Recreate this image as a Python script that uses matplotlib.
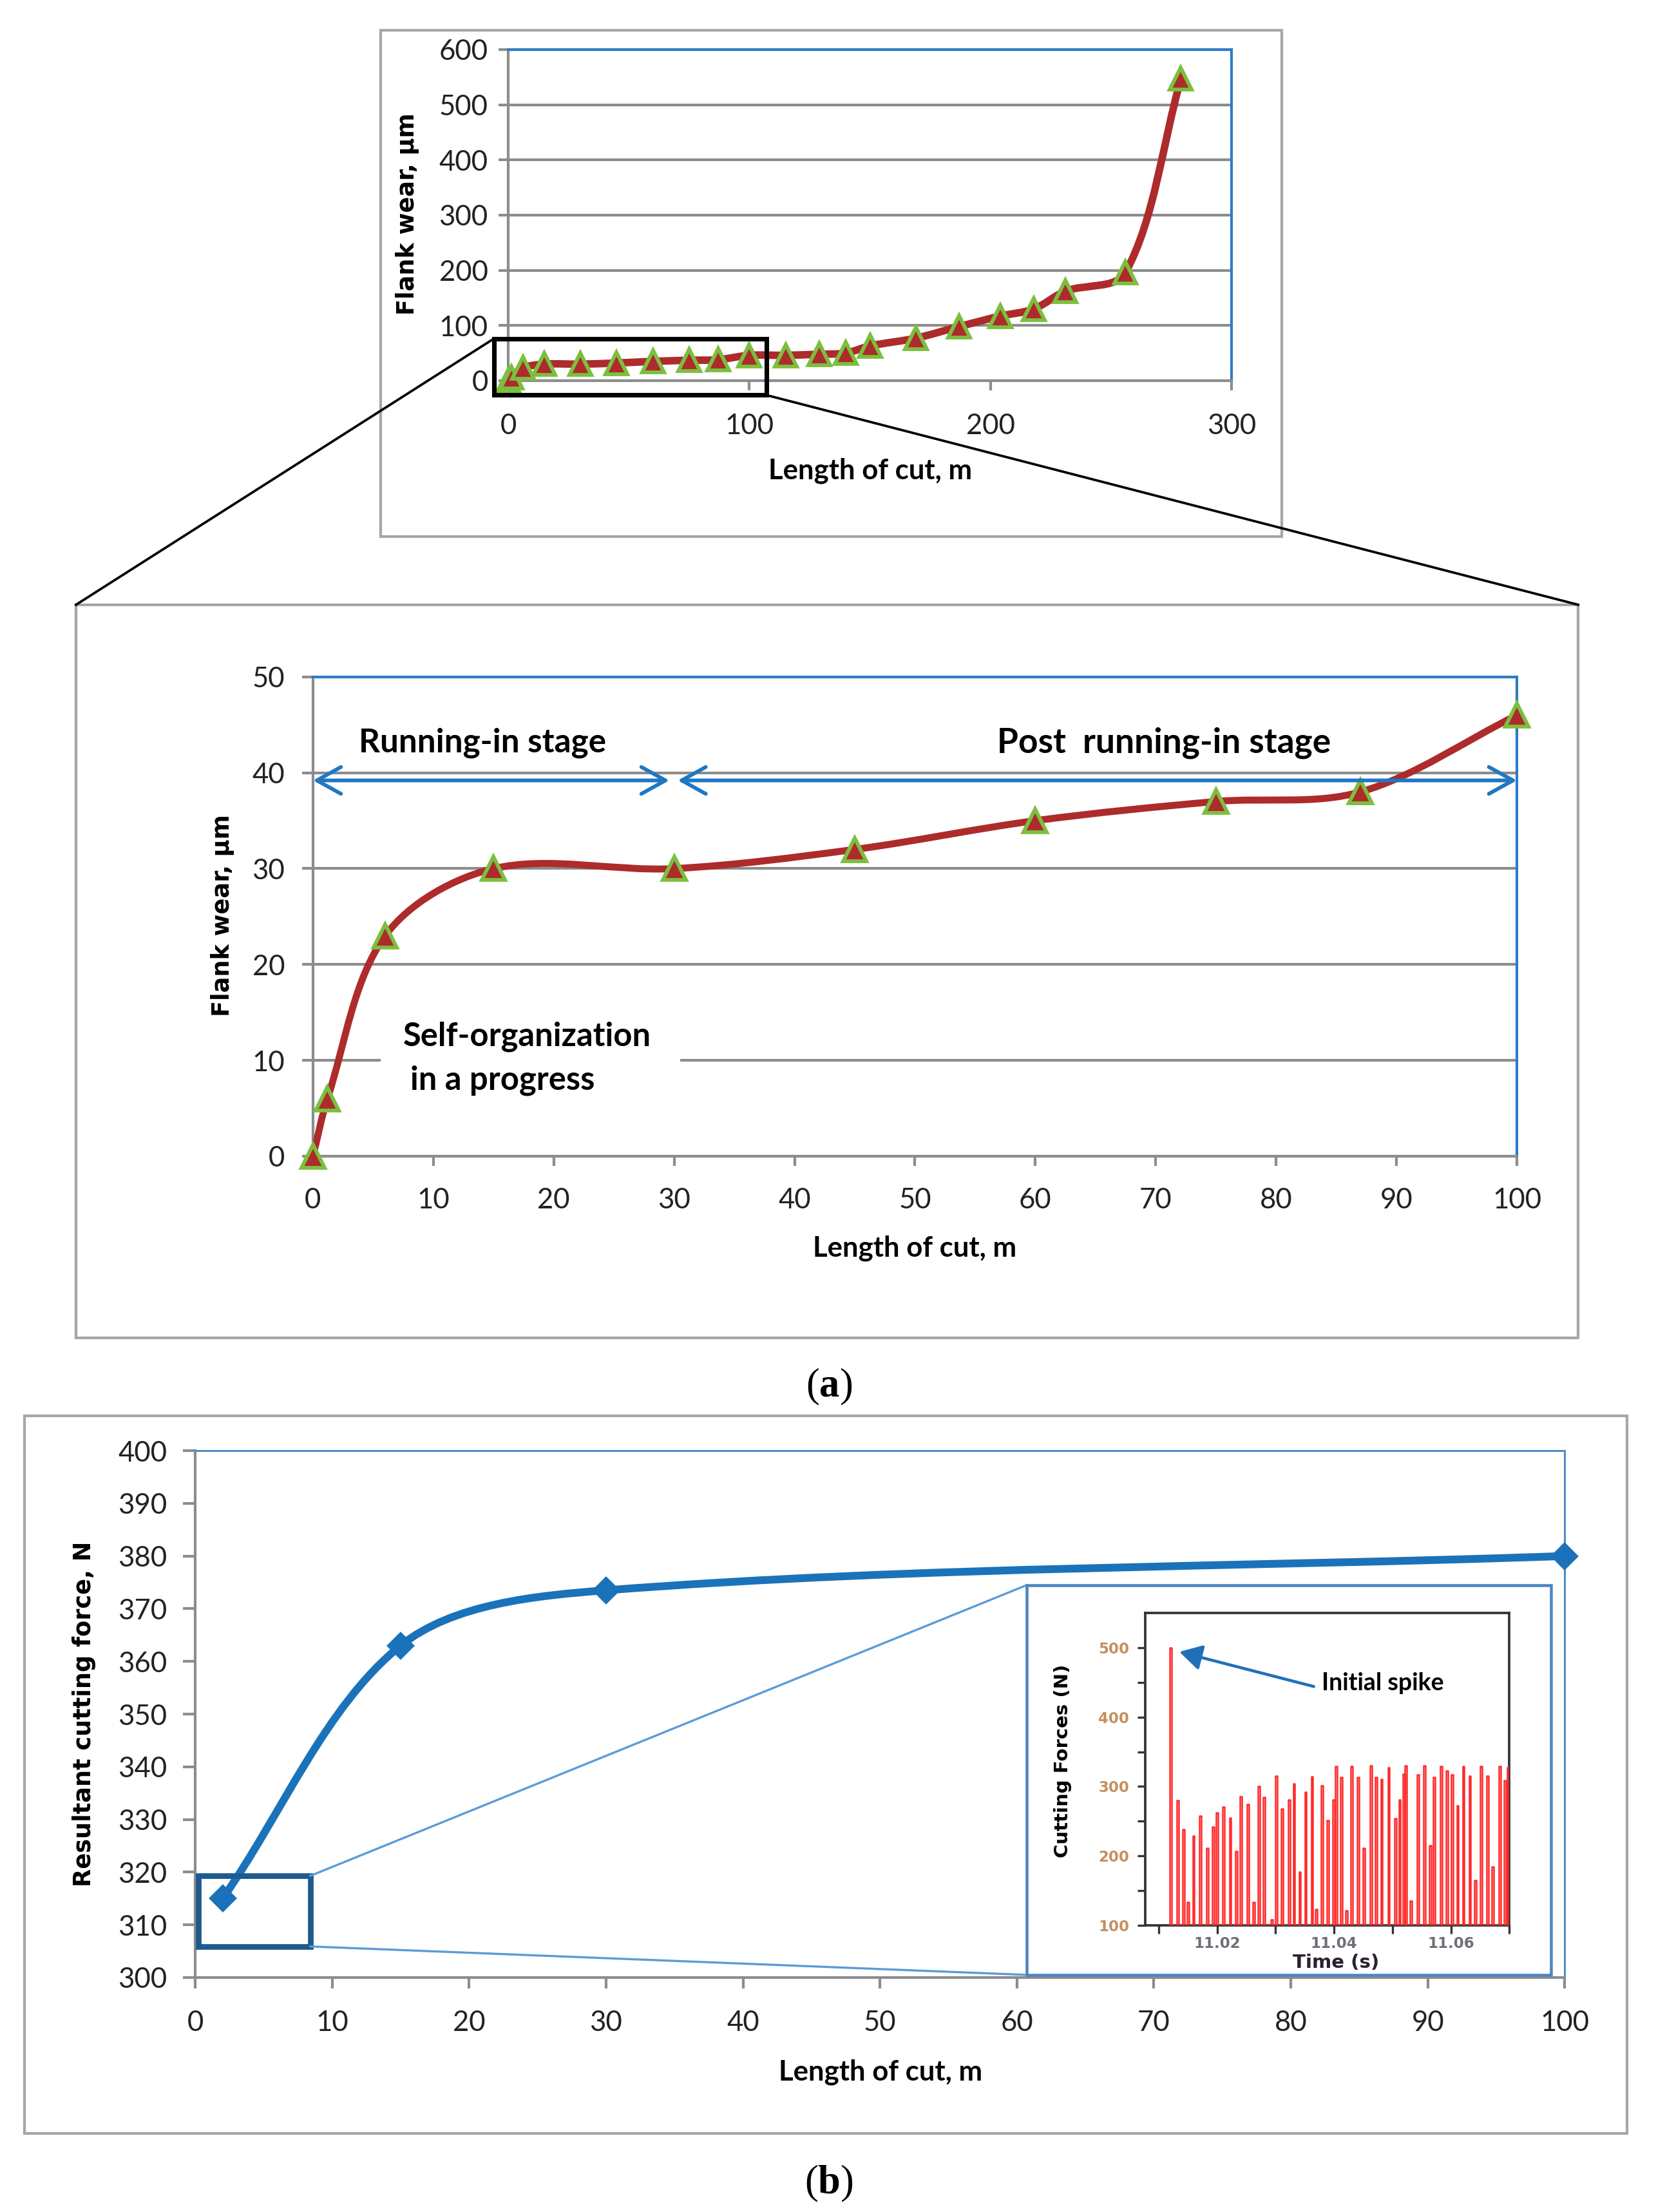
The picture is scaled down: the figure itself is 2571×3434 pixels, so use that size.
import numpy as np
import matplotlib
matplotlib.use("Agg")
import matplotlib.pyplot as plt
from matplotlib.path import Path
from matplotlib.patches import PathPatch, Rectangle
from matplotlib.lines import Line2D

plt.rcParams["font.family"] = ["Lato", "DejaVu Sans"]
plt.rcParams["mathtext.fontset"] = "custom"
plt.rcParams["mathtext.rm"] = "Liberation Serif"
plt.rcParams["mathtext.bf"] = "Liberation Serif:bold"

# ---- data ----
# (a) top: flank wear over the whole tool life
life_len = [0, 1.2, 6, 15, 30, 45, 60, 75, 87, 100, 115, 129, 140, 150,
            169, 187, 204, 218, 231, 256, 279]
life_wear = [0, 6, 23, 30, 30, 32, 35, 37, 38, 46, 46, 48, 50, 63,
             77, 98, 117, 130, 162, 196, 547]

# (a) bottom: zoom on the first 100 m
run_len = [0, 1.2, 6, 15, 30, 45, 60, 75, 87, 100]
run_wear = [0, 6, 23, 30, 30, 32, 35, 37, 38, 46]

# (b) resultant cutting force
force_len = [2, 15, 30, 100]
force_val = [315, 363, 373.5, 380]

# (b) inset: cutting force record, spike times and peak values
spike_t = [11.0119, 11.0131, 11.0141, 11.0149, 11.0158, 11.0170, 11.0182,
           11.0192, 11.0198, 11.0209, 11.0221, 11.0231, 11.0239, 11.0251,
           11.0261, 11.0270, 11.0279, 11.0292, 11.0300, 11.0310, 11.0322,
           11.0330, 11.0340, 11.0350, 11.0361, 11.0368, 11.0378, 11.0388,
           11.0398, 11.0402, 11.0411, 11.0420, 11.0429, 11.0440, 11.0450,
           11.0462, 11.0471, 11.0480, 11.0492, 11.0504, 11.0511, 11.0518,
           11.0521, 11.0530, 11.0542, 11.0553, 11.0563, 11.0570, 11.0582,
           11.0592, 11.0601, 11.0610, 11.0620, 11.0631, 11.0640, 11.0650,
           11.0661, 11.0670, 11.0682, 11.0691, 11.0697]
spike_peak = [500, 280, 238, 133, 229, 258, 211, 242, 262, 271, 255, 207,
              286, 274, 133, 300, 285, 108, 315, 268, 281, 304, 177, 292,
              314, 123, 301, 251, 281, 329, 313, 121, 329, 313, 211, 330,
              313, 311, 327, 254, 281, 318, 330, 135, 317, 330, 215, 313,
              329, 323, 317, 273, 329, 315, 165, 329, 315, 184, 329, 309,
              327]

RED = "#ad2b2b"
GREEN = "#7cbf3f"
BLUE = "#1f78c2"
GRAY = "#8c8c8c"
FRAME = "#a6a6a6"

W, H = 2571, 3434
fig = plt.figure(figsize=(W / 300, H / 300), dpi=300)
fig.patch.set_facecolor("white")


def excel_smooth(ax, x, y):
    """Smoothed line through the points, built in screen space like Excel."""
    pts = ax.transData.transform(np.column_stack([x, y]))
    n = len(pts)
    verts = [pts[0]]
    codes = [Path.MOVETO]
    for i in range(n - 1):
        p0 = pts[max(i - 1, 0)]
        p1 = pts[i]
        p2 = pts[i + 1]
        p3 = pts[min(i + 2, n - 1)]
        d01 = np.hypot(*(p1 - p0))
        d12 = np.hypot(*(p2 - p1))
        d23 = np.hypot(*(p3 - p2))
        c1 = p1 + (p2 - p0) * d12 / (3 * (d01 + d12))
        c2 = p2 - (p3 - p1) * d12 / (3 * (d12 + d23))
        verts += [c1, c2, p2]
        codes += [Path.CURVE4] * 3
    verts = ax.transData.inverted().transform(np.array(verts))
    return Path(verts, codes)


def style_axes(ax, spine_blue, blue_lw):
    for side in ("left", "bottom"):
        ax.spines[side].set_color(GRAY)
        ax.spines[side].set_linewidth(1.0)
    for side in ("top", "right"):
        ax.spines[side].set_color(spine_blue)
        ax.spines[side].set_linewidth(blue_lw)
    ax.tick_params(axis="both", direction="out", color=GRAY, width=1.0,
                   labelsize=10.5, labelcolor="#222222")


def fig_point(ax, x, y):
    return fig.transFigure.inverted().transform(ax.transData.transform((x, y)))


def frame_box(x0, y0, x1, y1, color=FRAME, lw=1.0, face="none", z=1):
    fig.add_artist(Rectangle((x0, y0), x1 - x0, y1 - y0, transform=fig.transFigure,
                             fc=face, ec=color, lw=lw, zorder=z))


# ---------------- (a) top chart ----------------
frame_box(0.2299, 0.7574, 0.774, 0.9863)
ax_top = fig.add_axes([0.3069, 0.8279, 0.4368, 0.1497])
ax_top.set_xlim(0, 300)
ax_top.set_ylim(0, 600)
style_axes(ax_top, "#2e7bc4", 1.0)
ax_top.set_xticks([0, 100, 200, 300])
ax_top.set_yticks(range(0, 601, 100))
ax_top.tick_params(axis="x", length=3.5, pad=8.5)
ax_top.tick_params(axis="y", length=3.5, pad=4)
ax_top.yaxis.grid(True, color=GRAY, lw=1.0)
ax_top.add_patch(PathPatch(excel_smooth(ax_top, life_len, life_wear), fill=False,
                           ec=RED, lw=2.8, zorder=3, capstyle="round"))
ax_top.plot(life_len, life_wear, ls="none", marker="^", ms=8, mfc=RED, mec=GREEN,
            mew=1.4, zorder=4, clip_on=False)
ax_top.add_patch(Rectangle((-6, -26), 113, 102, fill=False, ec="black", lw=1.7,
                           zorder=5, clip_on=False))
fig.text(0.2462, 0.9033, "Flank wear, μm", rotation=90, ha="center", va="center",
         fontsize=8.8, fontweight="bold", family="DejaVu Sans")
fig.text(0.5255, 0.7871, "Length of cut, m", ha="center", va="center",
         fontsize=10.5, fontweight="bold")

# ---------------- (a) zoomed chart ----------------
frame_box(0.0459, 0.3952, 0.953, 0.7266)
ax_mid = fig.add_axes([0.189, 0.4773, 0.727, 0.2167])
ax_mid.set_xlim(0, 100)
ax_mid.set_ylim(0, 50)
style_axes(ax_mid, "#2e7bc4", 1.0)
ax_mid.set_xticks(range(0, 101, 10))
ax_mid.set_yticks(range(0, 51, 10))
ax_mid.tick_params(axis="x", length=3.5, pad=8)
ax_mid.tick_params(axis="y", length=4, pad=6.5)
ax_mid.yaxis.grid(True, color=GRAY, lw=1.0)
ax_mid.add_patch(Rectangle((5.6, 8.3), 24.9, 3.4, fc="white", ec="none", zorder=1.6))
ax_mid.add_patch(PathPatch(excel_smooth(ax_mid, run_len, run_wear), fill=False,
                           ec=RED, lw=2.6, zorder=3, capstyle="round"))
ax_mid.plot(run_len, run_wear, ls="none", marker="^", ms=8.5, mfc=RED, mec=GREEN,
            mew=1.4, zorder=4, clip_on=False)
for x0, x1 in ((0, 29.6), (30.3, 100)):
    ax_mid.annotate("", xy=(x0, 39.2), xytext=(x1, 39.2), annotation_clip=False,
                    arrowprops=dict(arrowstyle="<->,head_length=0.45,head_width=0.25",
                                    mutation_scale=20, lw=1.4, color=BLUE,
                                    shrinkA=0, shrinkB=0), zorder=5)
ax_mid.text(14.1, 43.1, "Running-in stage", ha="center", va="center",
            fontsize=12.3, fontweight="bold")
ax_mid.text(70.7, 43.1, "Post  running-in stage", ha="center", va="center",
            fontsize=12.8, fontweight="bold")
ax_mid.text(7.5, 12.5, "Self-organization", ha="left", va="center",
            fontsize=12.2, fontweight="bold", zorder=5)
ax_mid.text(8.1, 7.9, "in a progress", ha="left", va="center",
            fontsize=12.2, fontweight="bold", zorder=5)
fig.text(0.1342, 0.5862, "Flank wear, μm", rotation=90, ha="center", va="center",
         fontsize=8.8, fontweight="bold", family="DejaVu Sans")
fig.text(0.5523, 0.4356, "Length of cut, m", ha="center", va="center",
         fontsize=10.5, fontweight="bold")

# zoom lines from the black box to the lower frame
for (dx, dy), (fx, fy) in (((-6, 76), (0.0459, 0.7266)), ((107, -26), (0.953, 0.7266))):
    px, py = fig_point(ax_top, dx, dy)
    fig.add_artist(Line2D([px, fx], [py, fy], transform=fig.transFigure,
                          color="black", lw=0.9, zorder=2))

fig.text(0.5006, 0.373, r"($\mathbf{a}$)", ha="center", va="center", fontsize=15,
         family="Liberation Serif")

# ---------------- (b) cutting force ----------------
frame_box(0.0148, 0.0355, 0.9825, 0.36)
ax_bot = fig.add_axes([0.1179, 0.106, 0.827, 0.2382])
ax_bot.set_xlim(0, 100)
ax_bot.set_ylim(300, 400)
style_axes(ax_bot, "#4a8ac6", 0.7)
ax_bot.set_xticks(range(0, 101, 10))
ax_bot.set_yticks(range(300, 401, 10))
ax_bot.tick_params(axis="x", length=4, pad=8)
ax_bot.tick_params(axis="y", length=4.5, pad=6)
ax_bot.add_patch(PathPatch(excel_smooth(ax_bot, force_len, force_val), fill=False,
                           ec="#1a73ba", lw=2.9, zorder=3, capstyle="round"))
ax_bot.plot(force_len, force_val, ls="none", marker="D", ms=6.5, mfc="#1a73ba",
            mec="#1a73ba", zorder=4, clip_on=False)
ax_bot.add_patch(Rectangle((0.24, 305.9), 8.16, 13.4, fill=False, ec="#1d5a8e",
                           lw=2.1, zorder=5))
fig.text(0.0506, 0.2251, "Resultant cutting force, N", rotation=90, ha="center",
         va="center", fontsize=8.8, fontweight="bold", family="DejaVu Sans")
fig.text(0.5317, 0.0632, "Length of cut, m", ha="center", va="center",
         fontsize=10.5, fontweight="bold")

ins_x0, ins_y0, ins_w, ins_h = 0.62, 0.1072, 0.3166, 0.1762
for (dx, dy), (fx, fy) in (((8.4, 319.3), (ins_x0, ins_y0 + ins_h)),
                           ((8.4, 305.9), (ins_x0, ins_y0))):
    px, py = fig_point(ax_bot, dx, dy)
    fig.add_artist(Line2D([px, fx], [py, fy], transform=fig.transFigure,
                          color="#5b9bd5", lw=0.8, zorder=2))
frame_box(ins_x0, ins_y0, ins_x0 + ins_w, ins_y0 + ins_h, color="#4f86c0",
          lw=1.1, face="white", z=3)

# inset record
ax_ins = fig.add_axes([0.6916, 0.1296, 0.2198, 0.1412])
ax_ins.set_zorder(6)
ax_ins.set_xlim(11.0077, 11.07)
ax_ins.set_ylim(100, 550)
for side in ax_ins.spines.values():
    side.set_color("#333333")
    side.set_linewidth(0.9)
ax_ins.set_xticks([11.02, 11.04, 11.06])
ax_ins.set_xticks([11.01, 11.03, 11.05, 11.07], minor=True)
ax_ins.set_xticklabels(["11.02", "11.04", "11.06"])
ax_ins.set_yticks(range(100, 501, 100))
ax_ins.set_yticks(range(150, 451, 100), minor=True)
ax_ins.tick_params(which="both", direction="out", color="#333333", width=0.8,
                   length=3)
ax_ins.tick_params(axis="x", labelsize=5.5, labelcolor="#6f6f7a", pad=1)
ax_ins.tick_params(axis="y", labelsize=5.5, labelcolor="#c49060", pad=3)
for lab in ax_ins.get_xticklabels() + ax_ins.get_yticklabels():
    lab.set_family("DejaVu Sans")
    lab.set_fontweight("bold")

SPIKE_W = 0.0003
vx, vy = [], []
for t, p in zip(spike_t, spike_peak):
    vx += [t, t, t + SPIKE_W, t + SPIKE_W]
    vy += [100, p, p, 100]
ax_ins.plot(vx, vy, color="#ff2a2a", lw=0.6, zorder=3)
ax_ins.annotate("Initial spike", xy=(11.0131, 495), xytext=(11.0379, 449),
                ha="left", va="center", fontsize=9, fontweight="bold",
                arrowprops=dict(arrowstyle="-|>,head_length=0.7,head_width=0.4",
                                mutation_scale=10, lw=1.1, color="#2070b8",
                                shrinkA=1, shrinkB=1, relpos=(0, 0.25)))
fig.text(0.6418, 0.2038, "Cutting Forces (N)", rotation=90, ha="center",
         va="center", fontsize=7, fontweight="bold", family="DejaVu Sans", zorder=7)
fig.text(0.8067, 0.1127, "Time (s)", ha="center", va="center", fontsize=7,
         fontweight="bold", family="DejaVu Sans", color="#2a2030", zorder=7)

fig.text(0.5006, 0.0128, r"($\mathbf{b}$)", ha="center", va="center", fontsize=15,
         family="Liberation Serif")

fig.savefig("out.png", dpi=300)
